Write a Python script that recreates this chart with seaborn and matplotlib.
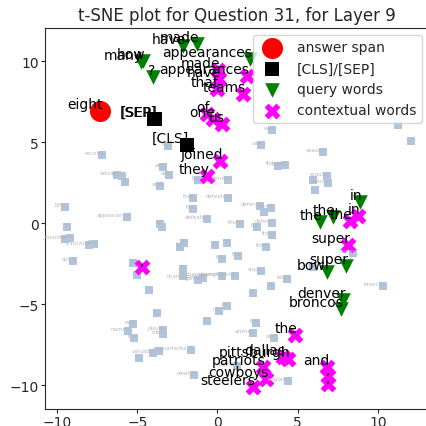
import seaborn as sns
import matplotlib.pyplot as plt

sns.set_style("ticks")

# background (other passage) tokens
bg_words = ["second", "the", "and", "and", "and", "advisor", "their", "to", "1995",
            "appearance", "in", "founded", "was", "franchise", "the", "since", "12", "",
            "48", "20", "50", "", "", "38", "32", "game", "championship", "championship",
            "championship", ",", "nfl", "nfc", "afc", "was", "named", "the", "player",
            "most", ".", "valuable", "the", "quarterback", "newton",
            "the", "denied", "they", "defeated", "the", "defeated", "them", "the",
            "defence", "", "force", "defend", "from", "in", "in", "the", "the", "from",
            "super", "at", "bowl", "at", "the", "arizona", "new", "patriots", "england",
            "vale", "was", "the", "finished",
            "", "regular", "season", "", "season", "", "", "bowl", "super", "broncos"]
bg_x = [-7.20, -3.08, -3.40, -3.02, -3.58, -6.26, -5.95, -5.76, -9.50,
        -5.64, -9.38, -9.50, -9.19, -8.01, -7.69, -9.00, -3.58, -3.46,
        -2.34, -2.09, -5.26, -5.02, -4.27, -2.15, -2.15, -1.21, -0.90, 0.28,
        1.09, -3.77, -0.65, 0.09, 0.59, -5.26, -5.58, -5.20, -3.40,
        -3.40, -4.89, -4.02, -3.64, -1.65, -1.46,
        -1.21, 0.65, -1.53, 0.65, -1.53, -0.65, 1.40, 2.46,
        2.65, 2.90, 3.33, 3.40, 3.40, -0.16, 0.59, 0.28, 1.28, 3.02,
        2.71, 3.33, 4.33, 2.21, 2.40, 2.21, 3.52, 1.21, 4.39,
        2.71, 3.40, 3.77, 4.21,
        5.95, 6.82, 6.89, 6.07, 6.57, 11.25, 12.06, 5.95, 8.44, 10.31]
bg_y = [4.20, 4.75, 3.46, 2.96, 2.28, 2.96, 2.90, 2.53, 0.99,
        0.37, -0.25, -0.99, -0.93, -1.36, -1.30, -2.35, -0.06, -0.25,
        -1.48, -1.23, -2.47, -3.21, -4.14, -2.84, -3.27, -3.52, -3.40, -3.27,
        -3.27, -5.56, -6.05, -5.43, -5.12, -6.23, -6.67, -7.10, -6.60,
        -6.85, -8.33, -8.02, -7.90, -7.84, -9.38,
        2.65, 2.65, 1.54, 1.54, 0.86, 0.25, -0.06, -0.25,
        1.05, 0.68, 0.93, 0.00, -0.74, -1.36, -1.23, -2.22, -2.04, -1.48,
        -2.96, -3.89, -3.46, -4.32, -6.17, -6.79, -7.10, -8.83, -9.75,
        4.81, 5.74, 3.52, 3.58,
        2.65, 2.90, 2.47, 2.04, 4.38, 6.05, 5.06, -2.72, -1.85, -3.89]

ans_words = ["eight"]
ans_x = [-7.32]
ans_y = [6.91]

sep_words = ["[SEP]", "[SEP]", "[CLS]"]
sep_x = [-3.89, -3.93, -1.90]
sep_y = [6.42, 6.45, 4.81]

q_words = ["how", "many", "?", "have", "made", "appearances", "the", "the", "in",
           "super", "bowl", "denver", "broncos"]
q_x = [-4.64, -4.77, -4.02, -2.15, -1.28, 2.02, 6.39, 7.20, 8.88,
       8.01, 6.82, 7.82, 7.69]
q_y = [10.00, 9.94, 9.01, 10.90, 11.05, 10.12, 0.06, 0.37, 1.30,
       -2.65, -3.02, -4.75, -5.31]

c_words = ["made", "have", "that", "appearances", "teams", "of", "one", "us", "joined",
           "they", ",", "in", "the", "super", "the", "pittsburgh", "dallas", "patriots",
           "cowboys", "steelers", "and", ",", ","]
c_x = [0.03, 0.09, -0.03, 1.84, 1.59, -0.65, -0.28, 0.28, 0.16,
       -0.65, -4.70, 8.75, 8.26, 8.13, 4.83, 4.39, 4.08, 2.83,
       3.02, 2.21, 6.82, 6.89, 6.89]
c_y = [9.44, 8.89, 8.27, 9.07, 7.96, 6.73, 6.42, 6.11, 3.83,
       2.90, -2.72, 0.43, 0.12, -1.36, -6.91, -8.40, -8.27, -8.89,
       -9.63, -10.12, -8.89, -9.44, -9.94]

fig = plt.figure(figsize=(4.26, 4.27), dpi=100)
ax = fig.add_axes([0.1056, 0.0398, 0.9014, 0.8923])

# other tokens
sns.scatterplot(x=bg_x, y=bg_y, color="lightsteelblue", marker="s", s=30,
                linewidth=0, ax=ax)
for w, x, y in zip(bg_words, bg_x, bg_y):
    ax.text(x + 0.15, y, w, fontsize=4, color="#b8b8b8", ha="right", va="bottom")

sns.scatterplot(x=ans_x, y=ans_y, color="red", marker="o", s=230, linewidth=0,
                label="answer span", ax=ax)
sns.scatterplot(x=sep_x, y=sep_y, color="black", marker="s", s=110, linewidth=0,
                label="[CLS]/[SEP]", ax=ax)
sns.scatterplot(x=q_x, y=q_y, color="green", marker="v", s=110, linewidth=0,
                label="query words", ax=ax)
sns.scatterplot(x=c_x, y=c_y, color="magenta", marker="X", s=130, linewidth=0,
                label="contextual words", ax=ax)

for words, xs, ys in [(ans_words, ans_x, ans_y), (sep_words, sep_x, sep_y),
                      (q_words, q_x, q_y), (c_words, c_x, c_y)]:
    for w, x, y in zip(words, xs, ys):
        ax.text(x + 0.15, y, w, fontsize=10, color="black", ha="right", va="bottom")

ax.set(xlim=(-10.75, 13.18), ylim=(-11.48, 12.04), xlabel="", ylabel="")
ax.set_xticks([-10, -5, 0, 5, 10])
ax.set_yticks([-10, -5, 0, 5, 10])
ax.tick_params(labelsize=10, length=3, pad=1.5)
ax.set_title("t-SNE plot for Question 31, for Layer 9", fontsize=12)
ax.legend(loc="upper right", fontsize=10)

fig.savefig("out.png", dpi=100)
